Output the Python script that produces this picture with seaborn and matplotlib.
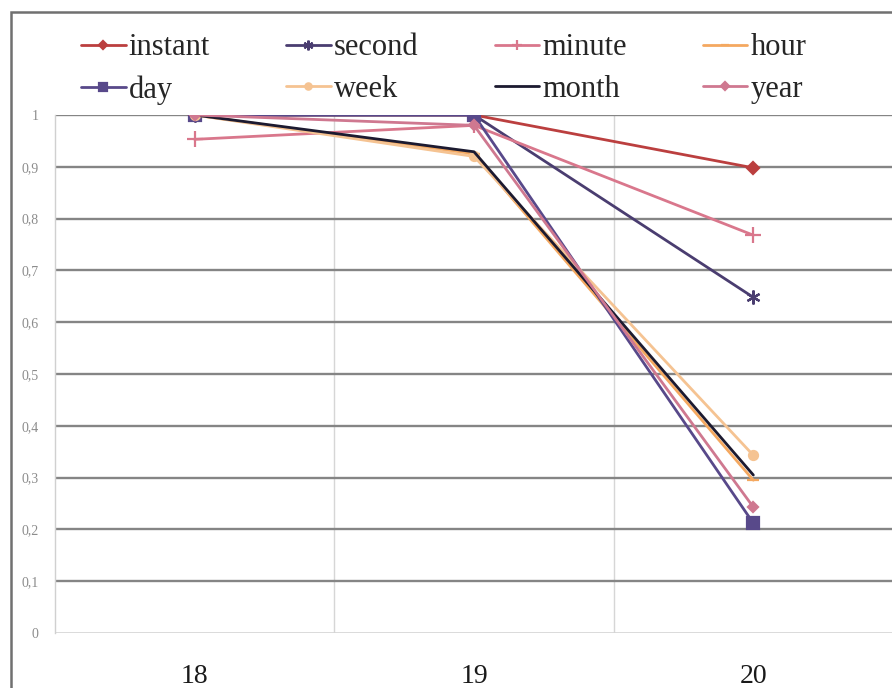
import matplotlib
matplotlib.use("Agg")
import matplotlib.pyplot as plt
from matplotlib.patches import Rectangle
import seaborn as sns
import pandas as pd

# Categories on the x axis
years = ["18", "19", "20"]

# Series values
instant = [1.0, 1.0, 0.898]
second = [1.0, 1.0, 0.648]
minute = [0.953, 0.980, 0.768]
hour = [1.0, 0.925, 0.295]
day = [1.0, 1.0, 0.212]
week = [1.0, 0.920, 0.343]
month = [1.0, 0.929, 0.305]
year = [1.0, 0.980, 0.243]

series_names = ["instant", "second", "minute", "hour", "day", "week", "month", "year"]
series_values = [instant, second, minute, hour, day, week, month, year]

y_ticks = [0, 0.1, 0.2, 0.3, 0.4, 0.5, 0.6, 0.7, 0.8, 0.9, 1]
y_tick_labels = ["0", "0,1", "0,2", "0,3", "0,4", "0,5", "0,6", "0,7", "0,8", "0,9", "1"]

colors = {
    "instant": "#bb3f3f",
    "second": "#4a3d70",
    "minute": "#d9778c",
    "hour": "#f4a860",
    "day": "#58498a",
    "week": "#f5c392",
    "month": "#1c1a30",
    "year": "#cf7890",
}
markers = {
    "instant": "D",
    "second": (6, 2, 0),
    "minute": "+",
    "hour": "_",
    "day": "s",
    "week": "o",
    "month": "",
    "year": "D",
}
msizes = {
    "instant": 6.5, "second": 10, "minute": 11, "hour": 9,
    "day": 8, "week": 6.5, "month": 0, "year": 5.5,
}

rows = []
for name, vals in zip(series_names, series_values):
    for i, v in enumerate(vals):
        rows.append({"series": name, "pos": i, "value": v})
df = pd.DataFrame(rows)

sns.set_theme(style="white")
plt.rcParams["font.family"] = ["Liberation Serif", "DejaVu Serif"]

fig = plt.figure(figsize=(8.92, 6.88), dpi=100)
ax = fig.add_axes([55 / 892, 1 - 633 / 688, 838 / 892, (633 - 115) / 688])

handles = {}
for name in series_names:
    sub = df[df["series"] == name]
    sns.lineplot(data=sub, x="pos", y="value", ax=ax, color=colors[name],
                 marker=markers[name] if markers[name] else None,
                 markersize=msizes[name], markeredgewidth=1.6,
                 markeredgecolor=colors[name], linewidth=2.0,
                 label=name, legend=False, zorder=3)
    handles[name] = ax.lines[-1]

ax.set_xlim(-0.5, 2.5)
ax.set_ylim(0, 1)
ax.set_xticks(range(len(years)))
ax.set_xticklabels(years, fontsize=20, color="#1a1a1a")
ax.set_yticks(y_ticks)
ax.set_yticklabels(y_tick_labels, fontsize=10, color="#8c8c8c")
ax.set_xlabel("")
ax.set_ylabel("")
ax.tick_params(axis="x", length=0, pad=22)
ax.tick_params(axis="y", length=0, pad=12)

# horizontal gridlines
for t in y_ticks[1:]:
    ax.axhline(t, color="#858585", linewidth=1.7, zorder=1)
ax.axhline(0, color="#d4d4d4", linewidth=1.2, zorder=1)
# vertical separators between categories
for xv in [0.5, 1.5]:
    ax.axvline(xv, color="#d6d6d6", linewidth=1.0, zorder=0)

for s in ["top", "right", "bottom"]:
    ax.spines[s].set_visible(False)
ax.spines["left"].set_color("#d0d0d0")
ax.spines["left"].set_linewidth(1.0)

# legend: row-major order across four columns
order = ["instant", "day", "second", "week", "minute", "month", "hour", "year"]
fig.legend([handles[n] for n in order], order, ncol=4, loc="upper left",
           bbox_to_anchor=(66 / 892, 1 - 18 / 688), frameon=False,
           handlelength=1.45, handletextpad=0.1, markerscale=0.7,
           columnspacing=2.5, labelspacing=0.42, borderpad=0,
           prop={"family": ["Liberation Serif"], "size": 22})

# outer chart border
fig.add_artist(Rectangle((11 / 892, -0.05), 1.2, 1.05 - 12 / 688,
                         transform=fig.transFigure, fill=False,
                         edgecolor="#707070", linewidth=1.8))

fig.savefig("out.png", dpi=100, facecolor="white")
